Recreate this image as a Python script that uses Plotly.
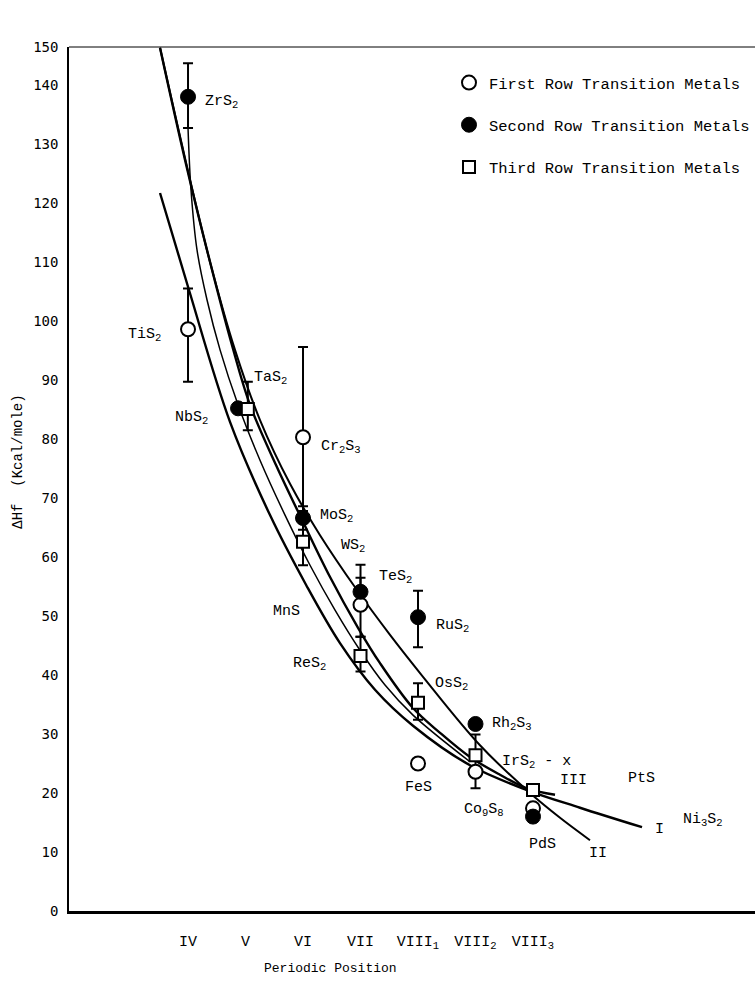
import plotly.graph_objects as go

# ---------------- data ----------------
positions = ["IV", "V", "VI", "VII", "VIII<sub>1</sub>", "VIII<sub>2</sub>", "VIII<sub>3</sub>"]
y_tick_vals = [0, 10, 20, 30, 40, 50, 60, 70, 80, 90, 100, 110, 120, 130, 140]
y_tick_text = ["0", "10", "20", "30", "40", "50", "60", "70", "80", "90", "100", "110", "120", "130", "140"]
y_top = 146.44
y_top_label = "150"

first_names = ["TiS<sub>2</sub>", "Cr<sub>2</sub>S<sub>3</sub>", "MnS", "FeS", "Co<sub>9</sub>S<sub>8</sub>", "Ni<sub>3</sub>S<sub>2</sub>"]
first_pos = [0, 2, 3, 4, 5, 6]
first_dhf = [98.6, 80.3, 51.9, 25.0, 23.6, 17.4]
first_err_plus = [6.9, 15.3, 4.6, 0, 2.8, 0]
first_err_minus = [8.9, 12.5, 5.4, 0, 2.8, 0]

second_names = ["ZrS<sub>2</sub>", "NbS<sub>2</sub>", "MoS<sub>2</sub>", "TeS<sub>2</sub>", "RuS<sub>2</sub>", "Rh<sub>2</sub>S<sub>3</sub>", "PdS"]
second_pos = [0, 1, 2, 3, 4, 5, 6]
second_dhf = [138.0, 85.2, 66.6, 54.1, 49.8, 31.7, 16.0]
second_err_plus = [5.7, 0, 2.0, 4.6, 4.5, 0, 0]
second_err_minus = [5.3, 0, 2.0, 0, 5.1, 0, 0]

third_names = ["TaS<sub>2</sub>", "WS<sub>2</sub>", "ReS<sub>2</sub>", "OsS<sub>2</sub>", "IrS<sub>2</sub> - x", "PtS"]
third_pos = [1, 2, 3, 4, 5, 6]
third_dhf = [85.1, 62.6, 43.2, 35.3, 26.4, 20.5]
third_err_plus = [4.6, 4.0, 3.3, 3.3, 3.5, 0]
third_err_minus = [3.6, 4.0, 2.6, 2.9, 0, 0]

# fitted curves
curve_I_x = [-0.487, 0.0, 0.730, 1.426, 2.052, 2.643, 3.252, 3.913, 4.904, 5.896, 6.817, 7.896]
curve_I_y = [121.7, 105.8, 82.9, 67.1, 55.3, 45.4, 37.5, 31.4, 24.7, 20.5, 17.5, 14.2]

curve_II_x = [-0.487, -0.052, 0.383, 0.817, 1.252, 1.774, 2.296, 2.939, 3.513, 4.087, 5.078, 5.948, 6.470, 6.991]
curve_II_y = [146.3, 127.6, 110.0, 95.1, 83.2, 72.4, 63.7, 54.4, 46.8, 39.7, 28.1, 20.0, 15.8, 12.0]

curve_III_x = [-0.487, -0.052, 0.383, 0.765, 1.078, 1.530, 1.983, 2.470, 2.957, 3.339, 3.913, 4.383, 4.904, 5.426, 5.896, 6.383]
curve_III_y = [146.3, 127.3, 110.0, 95.9, 85.8, 75.6, 66.3, 56.6, 48.0, 42.0, 34.4, 30.2, 26.1, 23.1, 20.8, 19.7]

curve_extra_x = [0.0, 0.052, 0.157, 0.330, 0.557, 0.870, 1.252, 1.687, 2.122, 2.557, 2.991, 3.426, 3.913, 4.904]
curve_extra_y = [132.7, 122.2, 112.0, 103.6, 95.1, 85.8, 76.4, 67.1, 58.6, 51.0, 44.2, 38.3, 33.2, 25.3]

curve_labels = ["I", "II", "III"]

# small horizontal dodges for overlapping symbols
second_dodge = [0, -0.13, 0, 0, 0, 0, 0]
third_dodge = [0.04, 0, 0, 0, 0, 0]

FONT = "Liberation Mono"

fig = go.Figure()

# curves
for cx, cy, w in [(curve_I_x, curve_I_y, 2.4), (curve_II_x, curve_II_y, 2.0),
                  (curve_III_x, curve_III_y, 2.4), (curve_extra_x, curve_extra_y, 1.5)]:
    fig.add_trace(go.Scatter(x=cx, y=cy, mode="lines",
                             line=dict(color="black", width=w, shape="spline", smoothing=1.0),
                             showlegend=False, hoverinfo="skip"))

def err(plus, minus):
    return dict(type="data", symmetric=False, array=plus, arrayminus=minus,
                color="black", thickness=2, width=5)

fig.add_trace(go.Scatter(
    x=first_pos, y=first_dhf, mode="markers", name="First Row Transition Metals",
    legendgroup="a",
    marker=dict(symbol="circle", size=14, color="white", line=dict(color="black", width=2)),
    error_y=err(first_err_plus, first_err_minus)))

fig.add_trace(go.Scatter(
    x=[p + d for p, d in zip(second_pos, second_dodge)], y=second_dhf, mode="markers",
    name="Second Row Transition Metals", legendgroup="b",
    marker=dict(symbol="circle", size=15, color="black", line=dict(color="black", width=1)),
    error_y=err(second_err_plus, second_err_minus)))

fig.add_trace(go.Scatter(
    x=[p + d for p, d in zip(third_pos, third_dodge)], y=third_dhf, mode="markers",
    name="Third Row Transition Metals", legendgroup="c",
    marker=dict(symbol="square", size=12, color="white", line=dict(color="black", width=2)),
    error_y=err(third_err_plus, third_err_minus)))

# ---------------- labels ----------------
ann = []
def lab(text, x, y, xs, ys, xa="left"):
    ann.append(dict(text=text, x=x, y=y, xref="x", yref="y", xshift=xs, yshift=ys,
                    xanchor=xa, yanchor="middle", showarrow=False,
                    font=dict(family=FONT, size=15, color="black")))

# first row
first_off = [(-25, -6, "right"), (16, -10, "left"), (-59, -7, "right"), (0, -24, "center"), (-14, -38, "left"), (148, -12, "left")]
for n, p, v, (xs, ys, xa) in zip(first_names, first_pos, first_dhf, first_off):
    lab(n, p, v, xs, ys, xa)
# second row
second_off = [(15, -5, "left"), (-28, -10, "right"), (15, 2, "left"), (16, 15, "left"), (16, -9, "left"), (14, 0, "left"), (9, -28, "center")]
for n, p, d, v, (xs, ys, xa) in zip(second_names, second_pos, second_dodge, second_dhf, second_off):
    lab(n, p + d, v, xs, ys, xa)
# third row
third_off = [(4, 31, "left"), (36, -4, "left"), (-33, -8, "right"), (15, 19, "left"), (24, -7, "left"), (93, 12, "left")]
for n, p, d, v, (xs, ys, xa) in zip(third_names, third_pos, third_dodge, third_dhf, third_off):
    lab(n, p + d, v, xs, ys, xa)
# curve labels at curve ends
lab(curve_labels[0], curve_I_x[-1], curve_I_y[-1], 11, -2)
lab(curve_labels[1], curve_II_x[-1], curve_II_y[-1], -3, -13)
lab(curve_labels[2], curve_III_x[-1], curve_III_y[-1], 3, 14)

# axis titles
ann.append(dict(text="ΔHf  (Kcal/mole)", x=-0.0743, y=0.52, xref="paper", yref="paper",
                textangle=-90, showarrow=False, xanchor="center", yanchor="middle",
                font=dict(family=FONT, size=14, color="black")))
ann.append(dict(text="Periodic Position", x=0.3805, y=-0.0671, xref="paper", yref="paper",
                showarrow=False, xanchor="center", yanchor="middle",
                font=dict(family=FONT, size=13, color="black")))

fig.update_layout(
    width=755, height=981, autosize=False,
    margin=dict(l=69, r=0, t=47, b=70),
    paper_bgcolor="white", plot_bgcolor="white",
    font=dict(family=FONT, color="black"),
    annotations=ann,
    shapes=[dict(type="line", xref="paper", yref="paper", x0=0, x1=1, y0=1, y1=1,
                 line=dict(color="black", width=1))],
    legend=dict(x=0.554, y=0.978, xanchor="left", yanchor="top", bgcolor="rgba(0,0,0,0)",
                font=dict(family=FONT, size=15.5, color="black"), tracegroupgap=19,
                itemsizing="trace"),
    xaxis=dict(range=[-2.07, 9.861], tickvals=list(range(len(positions))), ticktext=positions,
               showline=True, linecolor="black", linewidth=2.5, showgrid=False, zeroline=False,
               ticks="", tickfont=dict(family=FONT, size=15, color="black"), ticklabelstandoff=14),
    yaxis=dict(range=[0, y_top], tickvals=y_tick_vals + [y_top], ticktext=y_tick_text + [y_top_label],
               showline=True, linecolor="black", linewidth=1.5, showgrid=False, zeroline=False,
               ticks="", tickfont=dict(family="DejaVu Sans Mono", size=14, color="black"),
               ticklabelstandoff=6),
)

fig.write_html("out.html")
